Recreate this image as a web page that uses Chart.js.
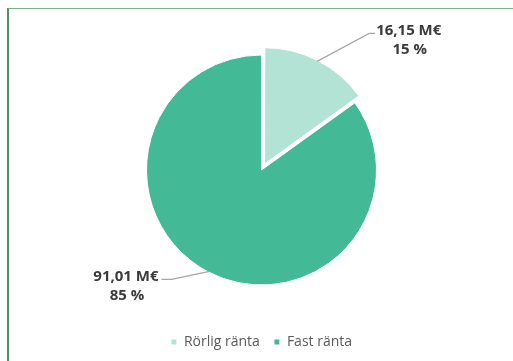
<!DOCTYPE html>
<html>
<head>
<meta charset="utf-8">
<script src="https://cdn.jsdelivr.net/npm/chart.js@4"></script>
<style>
  html, body { margin: 0; padding: 0; background: #fff; }
  .wrap { position: relative; width: 513px; height: 361px; }
  .frame { position: absolute; left: 7px; top: 8px; right: 0; bottom: 0;
           border-left: 2px solid #4f9262; border-top: 1px solid #76b388; }
  canvas { position: absolute; left: 0; top: 0; }
</style>
</head>
<body>
<div class="wrap">
  <div class="frame"></div>
  <canvas id="rantaChart" width="513" height="361"></canvas>
</div>
<script>
// Lånestock fördelad på räntetyp (M€)
const categories = ['Rörlig ränta', 'Fast ränta'];
const amounts = [16.15, 91.01];
const sliceColors = ['#b3e3d4', '#43b996'];

const total = amounts.reduce((a, b) => a + b, 0);
const fmtAmount = v => v.toFixed(2).replace('.', ',') + ' M€';
const fmtPercent = v => Math.round(v / total * 100) + ' %';

// leader line: from slice edge to elbow, then a short horizontal run
const leaders = [
  { dx: 52, dy: -28, run: 6 },
  { dx: -38, dy: 8, run: -10 }
];

const calloutPlugin = {
  id: 'callouts',
  afterDatasetsDraw(chart) {
    const ctx = chart.ctx;
    const meta = chart.getDatasetMeta(0);
    ctx.save();
    meta.data.forEach((arc, i) => {
      const p = arc.getProps(['x', 'y', 'startAngle', 'endAngle', 'outerRadius', 'circumference']);
      const mid = (p.startAngle + p.endAngle) / 2;
      const off = (arc.options.offset || 0) / 4;
      const shift = off * (2 - Math.sin(Math.min(Math.PI, p.circumference)));
      const r = p.outerRadius + shift - 1;
      const sx = p.x + Math.cos(mid) * r;
      const sy = p.y + Math.sin(mid) * r;
      const L = leaders[i];
      const ex = sx + L.dx, ey = sy + L.dy;
      const tx = ex + L.run;
      ctx.strokeStyle = '#a6a6a6';
      ctx.lineWidth = 1.2;
      ctx.beginPath();
      ctx.moveTo(sx, sy);
      ctx.lineTo(ex, ey);
      ctx.lineTo(tx, ey);
      ctx.stroke();

      const line1 = fmtAmount(amounts[i]);
      const line2 = fmtPercent(amounts[i]);
      ctx.font = 'bold 15px "Open Sans"';
      ctx.fillStyle = '#3a3a3a';
      ctx.textAlign = 'center';
      ctx.textBaseline = 'middle';
      const w = ctx.measureText(line1).width;
      const cx = L.run > 0 ? tx + 1 + w / 2 : tx - 3 - w / 2;
      ctx.fillText(line1, cx, ey - 3);
      ctx.fillText(line2, cx + 1, ey + 16);
    });
    ctx.restore();
  }
};

const ctx = document.getElementById('rantaChart').getContext('2d');
const rantaChart = new Chart(ctx, {
  type: 'pie',
  data: {
    labels: categories,
    datasets: [{
      data: amounts,
      backgroundColor: sliceColors,
      borderColor: '#ffffff',
      borderWidth: 1,
      offset: [27, 0],
      hoverOffset: 0
    }]
  },
  options: {
    responsive: false,
    animation: false,
    radius: 115,
    layout: { padding: { left: 10, right: 0, top: 19, bottom: 2 } },
    plugins: {
      tooltip: { enabled: false },
      legend: {
        position: 'bottom',
        labels: {
          boxWidth: 6,
          boxHeight: 6,
          padding: 14,
          color: '#5a5a5a',
          font: { family: '"Open Sans"', size: 14 }
        }
      }
    }
  },
  plugins: [calloutPlugin]
});
</script>
</body>
</html>
